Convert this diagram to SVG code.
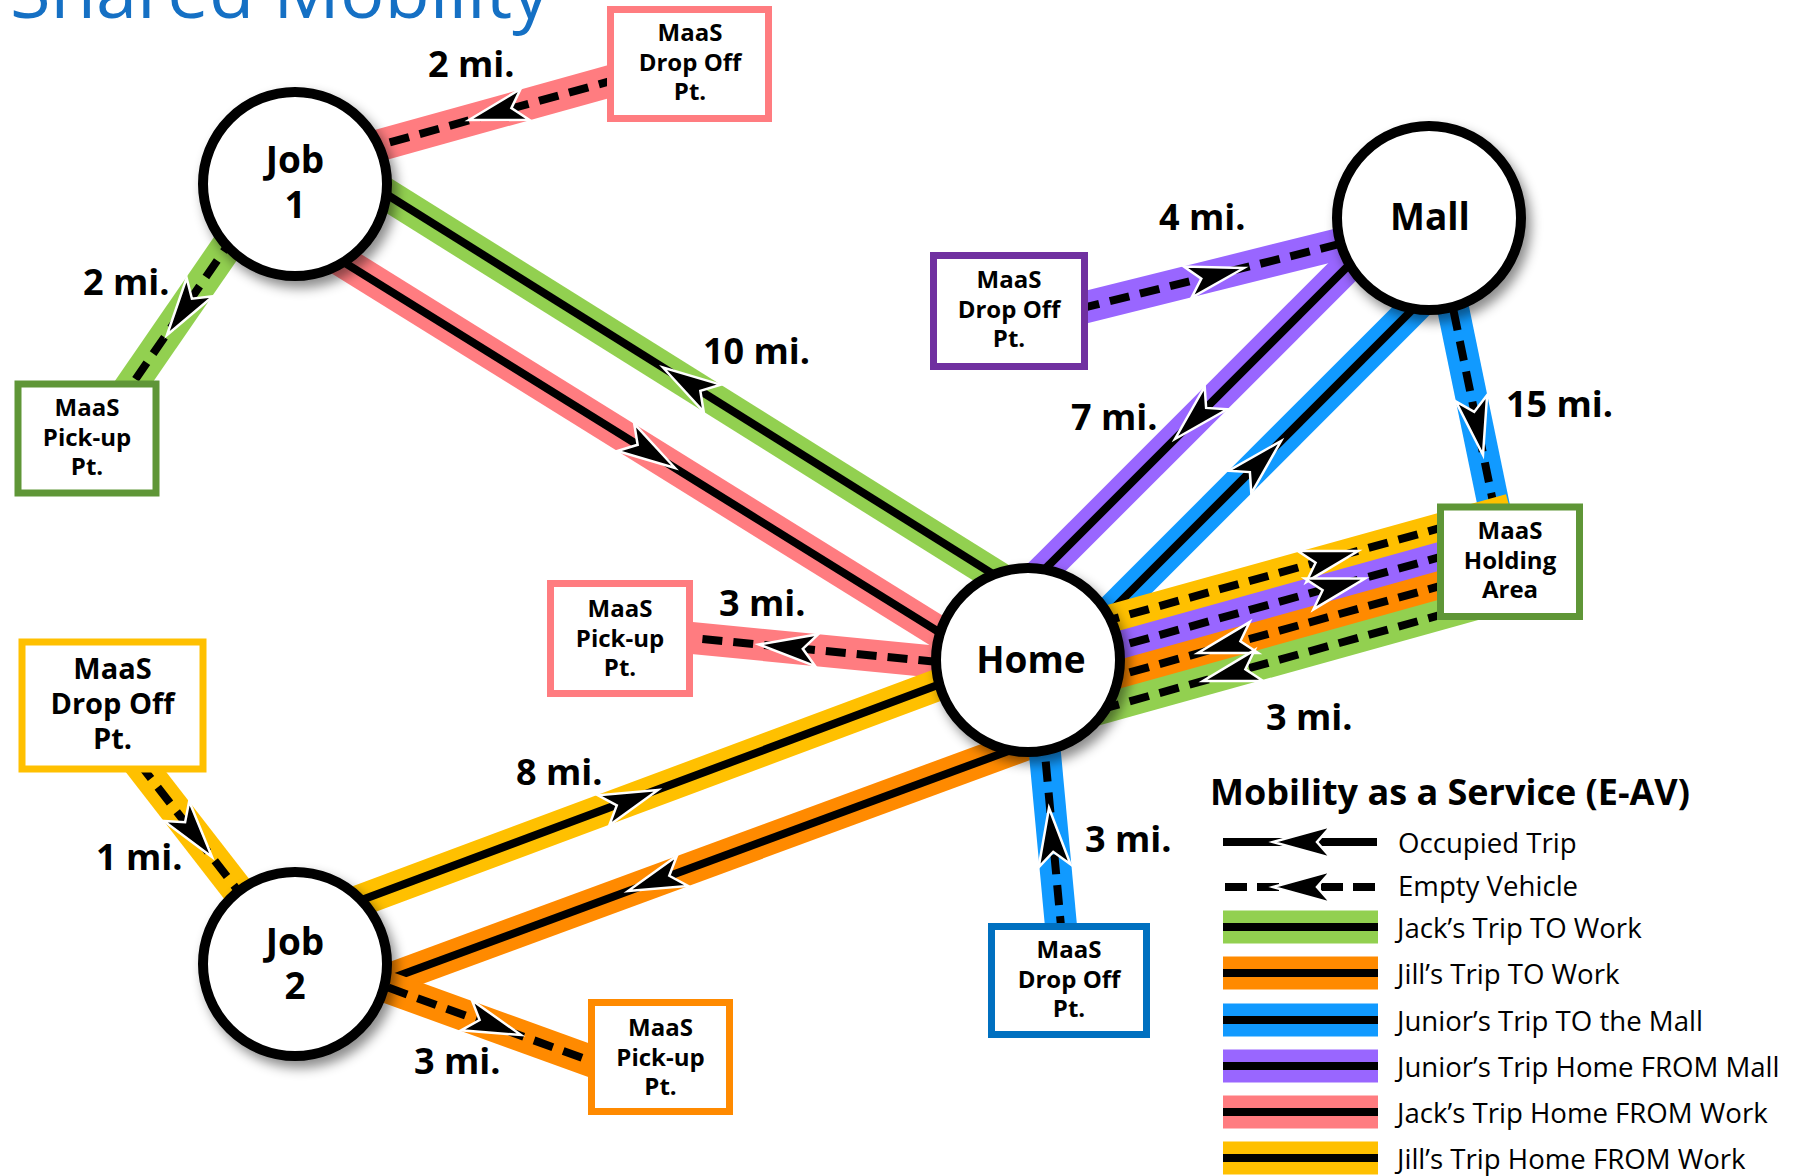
<svg xmlns="http://www.w3.org/2000/svg" width="1801" height="1176" viewBox="0 0 1801 1176">
<defs>
<style>
.b{fill:none;stroke-width:32;stroke-linecap:butt}
.h{stroke-width:30}
.k{fill:none;stroke:#000;stroke-width:8;stroke-linecap:butt}
.d{stroke-dasharray:20 11}
.g{stroke:#92D050}.p{stroke:#FF7C80}.v{stroke:#9966FF}.u{stroke:#119AFF}.o{stroke:#FF8A00}.y{stroke:#FFC000}
.node circle{fill:#fff;stroke:#000;stroke-width:10}
.box rect{fill:#fff;stroke-width:7}
text{font-family:"Open Sans","Liberation Sans",sans-serif;fill:#000}
.nl{font-size:37px;font-weight:700;text-anchor:middle}
.bl{font-size:24px;font-weight:700;text-anchor:middle}
.bl2{font-size:29px;font-weight:700;text-anchor:middle}
.dl{font-size:36px;font-weight:700}
.lg{font-size:27.6px}
</style>
<path id="ah" d="M0,0 L-58,-16 L-44,0 L-58,16 Z" fill="#000" stroke="#fff" stroke-width="2.5" stroke-linejoin="miter"/>
<filter id="sh" x="-30%" y="-30%" width="170%" height="170%">
<feDropShadow dx="5" dy="7" stdDeviation="6" flood-color="#000" flood-opacity="0.45"/>
</filter>
</defs>

<text x="10" y="18" style="font-size:74px;fill:#1570C4">Shared Mobility</text>

<g id="connectors">
<line class="b p" x1="330" y1="159" x2="690" y2="59"/>
<line class="k d" x1="330" y1="159" x2="690" y2="59"/>
<line class="b g" x1="270" y1="184" x2="95" y2="438"/>
<line class="k d" x1="270" y1="184" x2="95" y2="438"/>
<line class="b g" x1="330" y1="159" x2="1028" y2="596"/>
<line class="k" x1="330" y1="159" x2="1028" y2="596"/>
<line class="b p" x1="300" y1="235" x2="1000" y2="670"/>
<line class="k" x1="300" y1="235" x2="1000" y2="670"/>
<line class="b v" x1="1400" y1="229" x2="1010" y2="326"/>
<line class="k d" x1="1400" y1="229" x2="1010" y2="326"/>
<line class="b v" x1="1380" y1="234" x2="1010" y2="604"/>
<line class="k" x1="1380" y1="234" x2="1010" y2="604"/>
<line class="b u" x1="1440" y1="282" x2="1060" y2="662"/>
<line class="k" x1="1440" y1="282" x2="1060" y2="662"/>
<line class="b u" x1="1441" y1="250" x2="1505" y2="560"/>
<line class="k d" x1="1441" y1="250" x2="1505" y2="560"/>
<line class="b h y" x1="1040" y1="639.3" x2="1510" y2="508.6"/>
<line class="k d" x1="1040" y1="639.3" x2="1510" y2="508.6"/>
<line class="b h v" x1="1040" y1="668.3" x2="1510" y2="537.6"/>
<line class="k d" x1="1040" y1="668.3" x2="1510" y2="537.6"/>
<line class="b h o" x1="1040" y1="697.3" x2="1510" y2="566.6"/>
<line class="k d" x1="1040" y1="697.3" x2="1510" y2="566.6"/>
<line class="b h g" x1="1040" y1="726.3" x2="1520" y2="592.8"/>
<line class="k d" x1="1040" y1="726.3" x2="1520" y2="592.8"/>
<line class="b p" x1="1000" y1="668" x2="620" y2="631"/>
<line class="k d" x1="1000" y1="668" x2="620" y2="631"/>
<line class="b y" x1="320" y1="915.5" x2="990" y2="665.6"/>
<line class="k" x1="320" y1="915.5" x2="990" y2="665.6"/>
<line class="b o" x1="330" y1="1001" x2="1060" y2="732"/>
<line class="k" x1="330" y1="1001" x2="1060" y2="732"/>
<line class="b y" x1="284" y1="950" x2="94" y2="705"/>
<line class="k d" x1="284" y1="950" x2="94" y2="705"/>
<line class="b o" x1="330" y1="966.5" x2="660" y2="1086"/>
<line class="k d" x1="330" y1="966.5" x2="660" y2="1086"/>
<line class="b u" x1="1040" y1="700" x2="1066" y2="980"/>
<line class="k d" x1="1040" y1="700" x2="1066" y2="980"/>

<use href="#ah" transform="translate(469,120) rotate(164.4)"/>
<use href="#ah" transform="translate(167,335) rotate(124.5)"/>
<use href="#ah" transform="translate(663,367.5) rotate(-148)"/>
<use href="#ah" transform="translate(675,468) rotate(31.9)"/>
<use href="#ah" transform="translate(1244,268) rotate(-14)"/>
<use href="#ah" transform="translate(1175,439) rotate(135)"/>
<use href="#ah" transform="translate(1281,441) rotate(-45)"/>
<use href="#ah" transform="translate(1483,455) rotate(78.5)"/>
<use href="#ah" transform="translate(1358,551) rotate(-15.5)"/>
<use href="#ah" transform="translate(1365,578.5) rotate(-15.5)"/>
<use href="#ah" transform="translate(1198,653) rotate(164.5)"/>
<use href="#ah" transform="translate(1203,681) rotate(164.5)"/>
<use href="#ah" transform="translate(759,644.5) rotate(185.6)"/>
<use href="#ah" transform="translate(658,790) rotate(-20.5)"/>
<use href="#ah" transform="translate(628,891) rotate(159.7)"/>
<use href="#ah" transform="translate(212,857) rotate(52.3)"/>
<use href="#ah" transform="translate(521,1035) rotate(19.9)"/>
<use href="#ah" transform="translate(1049,808) rotate(-95.5)"/>
</g>

<g id="distance-labels">
<text class="dl" x="428" y="77">2 mi.</text>
<text class="dl" x="83" y="295">2 mi.</text>
<text class="dl" x="703" y="364">10 mi.</text>
<text class="dl" x="1159" y="230">4 mi.</text>
<text class="dl" x="1071" y="430">7 mi.</text>
<text class="dl" x="1506" y="417">15 mi.</text>
<text class="dl" x="719" y="616">3 mi.</text>
<text class="dl" x="516" y="785">8 mi.</text>
<text class="dl" x="1085" y="852">3 mi.</text>
<text class="dl" x="1266" y="730">3 mi.</text>
<text class="dl" x="96" y="870">1 mi.</text>
<text class="dl" x="414" y="1074">3 mi.</text>
</g>

<g id="node-job1" class="node">
<circle cx="295" cy="184" r="92" filter="url(#sh)"/>
<text class="nl" x="295" y="173">Job<tspan x="295" y="218">1</tspan></text>
</g>
<g id="node-mall" class="node">
<circle cx="1429" cy="218" r="92" filter="url(#sh)"/>
<text class="nl" x="1430" y="230">Mall</text>
</g>
<g id="node-home" class="node">
<circle cx="1028" cy="660" r="92" filter="url(#sh)"/>
<text class="nl" x="1031" y="673">Home</text>
</g>
<g id="node-job2" class="node">
<circle cx="295" cy="964" r="92" filter="url(#sh)"/>
<text class="nl" x="295" y="955">Job<tspan x="295" y="999">2</tspan></text>
</g>

<g id="box-pink-dropoff" class="box">
<rect x="610.5" y="9.5" width="158" height="109" stroke="#FF7C80"/>
<text class="bl" x="690" y="41">MaaS<tspan x="690" y="71">Drop Off</tspan><tspan x="690" y="100">Pt.</tspan></text>
</g>
<g id="box-green-pickup" class="box">
<rect x="18" y="384" width="138" height="109" stroke="#5F9637"/>
<text class="bl" x="87" y="415.5">MaaS<tspan x="87" y="445.5">Pick-up</tspan><tspan x="87" y="474.5">Pt.</tspan></text>
</g>
<g id="box-purple-dropoff" class="box">
<rect x="933.5" y="255.5" width="151" height="111" stroke="#7030A0"/>
<text class="bl" x="1009" y="288">MaaS<tspan x="1009" y="318">Drop Off</tspan><tspan x="1009" y="347">Pt.</tspan></text>
</g>
<g id="box-pink-pickup" class="box">
<rect x="550.5" y="583.5" width="139" height="110" stroke="#FF7C80"/>
<text class="bl" x="620" y="616.5">MaaS<tspan x="620" y="646.5">Pick-up</tspan><tspan x="620" y="675.5">Pt.</tspan></text>
</g>
<g id="box-holding" class="box">
<rect x="1440.5" y="507" width="139" height="109.5" stroke="#5F9637"/>
<text class="bl" x="1510" y="539">MaaS<tspan x="1510" y="569">Holding</tspan><tspan x="1510" y="598">Area</tspan></text>
</g>
<g id="box-yellow-dropoff" class="box">
<rect x="22" y="642" width="181" height="127" stroke="#FFC000"/>
<text class="bl2" x="112.5" y="679">MaaS<tspan x="112.5" y="714">Drop Off</tspan><tspan x="112.5" y="749">Pt.</tspan></text>
</g>
<g id="box-blue-dropoff" class="box">
<rect x="991.5" y="926.5" width="155" height="108" stroke="#0070C0"/>
<text class="bl" x="1069" y="957.5">MaaS<tspan x="1069" y="987.5">Drop Off</tspan><tspan x="1069" y="1016.5">Pt.</tspan></text>
</g>
<g id="box-orange-pickup" class="box">
<rect x="591.5" y="1002.5" width="138" height="109" stroke="#FF8A00"/>
<text class="bl" x="660.5" y="1035.5">MaaS<tspan x="660.5" y="1065.5">Pick-up</tspan><tspan x="660.5" y="1094.5">Pt.</tspan></text>
</g>

<g id="legend">
<text x="1210" y="805" style="font-size:36px;font-weight:700">Mobility as a Service (E-AV)</text>
<line class="k" x1="1223" y1="842" x2="1377" y2="842"/>
<use href="#ah" transform="translate(1273,842) rotate(180)"/>
<line class="k" x1="1225" y1="887" x2="1377" y2="887" style="stroke-dasharray:22 10"/>
<use href="#ah" transform="translate(1273,887) rotate(180)"/>
<rect x="1223" y="910.5" width="155" height="33" fill="#92D050"/>
<rect x="1223" y="956.5" width="155" height="33" fill="#FF8A00"/>
<rect x="1223" y="1003.5" width="155" height="33" fill="#119AFF"/>
<rect x="1223" y="1049.5" width="155" height="33" fill="#9966FF"/>
<rect x="1223" y="1095.5" width="155" height="33" fill="#FF7C80"/>
<rect x="1223" y="1141.5" width="155" height="33" fill="#FFC000"/>
<line class="k" x1="1223" y1="927" x2="1378" y2="927"/>
<line class="k" x1="1223" y1="973" x2="1378" y2="973"/>
<line class="k" x1="1223" y1="1020" x2="1378" y2="1020"/>
<line class="k" x1="1223" y1="1066" x2="1378" y2="1066"/>
<line class="k" x1="1223" y1="1112" x2="1378" y2="1112"/>
<line class="k" x1="1223" y1="1158" x2="1378" y2="1158"/>
<text class="lg" x="1398" y="853">Occupied Trip</text>
<text class="lg" x="1398" y="896">Empty Vehicle</text>
<text class="lg" x="1397" y="938">Jack’s Trip TO Work</text>
<text class="lg" x="1397" y="984">Jill’s Trip TO Work</text>
<text class="lg" x="1397" y="1031">Junior’s Trip TO the Mall</text>
<text class="lg" x="1397" y="1077">Junior’s Trip Home FROM Mall</text>
<text class="lg" x="1397" y="1123">Jack’s Trip Home FROM Work</text>
<text class="lg" x="1397" y="1169">Jill’s Trip Home FROM Work</text>
</g>
</svg>
